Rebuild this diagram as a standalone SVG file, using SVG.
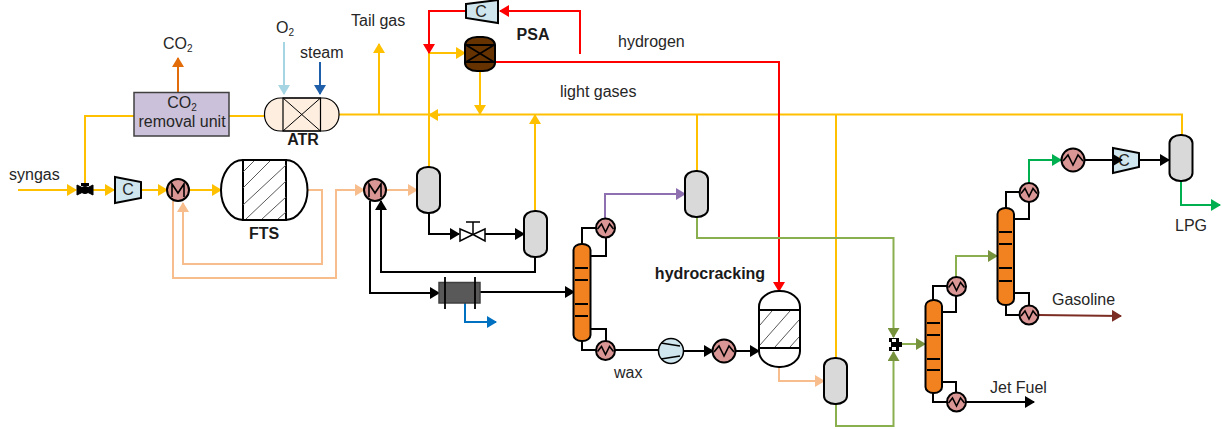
<svg xmlns="http://www.w3.org/2000/svg" width="1222" height="429" viewBox="0 0 1222 429">
<defs>
<style>
text{font-family:"Liberation Sans",Arial,sans-serif;font-size:16px;fill:#262626}
.b{font-weight:bold;fill:#1a1a1a}
.l{fill:none;stroke-linejoin:miter}
.y{stroke:#ffc000;stroke-width:2}
.p{stroke:#f8bd8c;stroke-width:2}
.k{stroke:#000;stroke-width:2}
.g{stroke:#8aaf4f;stroke-width:2}
.r{stroke:#ff0000;stroke-width:2}
.e{stroke:#00b050;stroke-width:2}
.v{fill:#d9d9d9;stroke:#000;stroke-width:2}
.col{fill:#f28220;stroke:#000;stroke-width:2}
.hx{fill:#d99694;stroke:#000;stroke-width:2}
.s{fill:none;stroke:#000;stroke-width:1.600}
.c{fill:#cfe6ee;stroke:#000;stroke-width:2}
.h{stroke:#595959;stroke-width:1}
</style>
<marker id="my" markerUnits="userSpaceOnUse" markerWidth="10" markerHeight="12" refX="9" refY="6" orient="auto"><path d="M0 0L10 6L0 12Z" fill="#ffc000"/></marker>
<marker id="mp" markerUnits="userSpaceOnUse" markerWidth="10" markerHeight="12" refX="9" refY="6" orient="auto"><path d="M0 0L10 6L0 12Z" fill="#f8bd8c"/></marker>
<marker id="mk" markerUnits="userSpaceOnUse" markerWidth="10" markerHeight="12" refX="9" refY="6" orient="auto"><path d="M0 0L10 6L0 12Z" fill="#000"/></marker>
<marker id="mg" markerUnits="userSpaceOnUse" markerWidth="10" markerHeight="12" refX="9" refY="6" orient="auto"><path d="M0 0L10 6L0 12Z" fill="#76923c"/></marker>
<marker id="mr" markerUnits="userSpaceOnUse" markerWidth="10" markerHeight="12" refX="9" refY="6" orient="auto"><path d="M0 0L10 6L0 12Z" fill="#ff0000"/></marker>
<marker id="me" markerUnits="userSpaceOnUse" markerWidth="10" markerHeight="12" refX="9" refY="6" orient="auto"><path d="M0 0L10 6L0 12Z" fill="#00b050"/></marker>
<marker id="mo" markerUnits="userSpaceOnUse" markerWidth="10" markerHeight="12" refX="9" refY="6" orient="auto"><path d="M0 0L10 6L0 12Z" fill="#e26b0a"/></marker>
<marker id="ml" markerUnits="userSpaceOnUse" markerWidth="10" markerHeight="12" refX="9" refY="6" orient="auto"><path d="M0 0L10 6L0 12Z" fill="#a5d5e2"/></marker>
<marker id="ms" markerUnits="userSpaceOnUse" markerWidth="10" markerHeight="12" refX="9" refY="6" orient="auto"><path d="M0 0L10 6L0 12Z" fill="#1f5ea8"/></marker>
<marker id="mb" markerUnits="userSpaceOnUse" markerWidth="10" markerHeight="12" refX="9" refY="6" orient="auto"><path d="M0 0L10 6L0 12Z" fill="#0070c0"/></marker>
<marker id="mw" markerUnits="userSpaceOnUse" markerWidth="10" markerHeight="12" refX="9" refY="6" orient="auto"><path d="M0 0L10 6L0 12Z" fill="#7b2c23"/></marker>
<marker id="mv" markerUnits="userSpaceOnUse" markerWidth="10" markerHeight="12" refX="9" refY="6" orient="auto"><path d="M0 0L10 6L0 12Z" fill="#8e6fb0"/></marker>
<g id="sep"><rect x="-11.500" y="-23" width="23" height="46" rx="11" ry="8" class="v"/></g>
<g id="hxs"><circle r="9.500" class="hx"/><path d="M-8 1L-4 -4L0 4L4 -4L8 1" class="s"/></g>
<g id="hxl"><circle r="11.500" class="hx"/><path d="M-10 1L-5 -5L0 5L5 -5L10 1" class="s"/></g>
<g id="hxm"><circle r="11" class="hx"/><path d="M-6 7V-6L0 3L6 -6V7" class="s"/></g>
</defs>

<g id="comp2"><path d="M1113 148L1139 153V167L1113 173Z" class="c" stroke-width="1.500"/><text x="1124" y="166" text-anchor="middle">C</text></g>

<g id="connectors">
<path class="l y" d="M18 190H76" marker-end="url(#my)"/>
<path class="l y" d="M85 184V116H134"/>
<path class="l y" d="M229 116H264"/>
<path class="l y" d="M92 190H114" marker-end="url(#my)"/>
<path class="l y" d="M140 190H167" marker-end="url(#my)"/>
<path class="l y" d="M189 190H221" marker-end="url(#my)"/>
<path class="l" stroke="#e26b0a" stroke-width="2" d="M178 92V58" marker-end="url(#mo)"/>
<path class="l" stroke="#a5d5e2" stroke-width="2" d="M284 42V94" marker-end="url(#ml)"/>
<path class="l" stroke="#1f5ea8" stroke-width="2" d="M320 62V94" marker-end="url(#ms)"/>
<path class="l y" d="M339 114.500H1182V135"/>
<path class="l y" d="M379 115V44" marker-end="url(#my)"/>
<path class="l y" d="M429 167V53"/>
<path class="l y" d="M429 53H465" marker-end="url(#my)"/>
<path class="l y" d="M480 70V114" marker-end="url(#my)"/>
<path class="l y" d="M440 115H429" marker-end="url(#my)"/>
<path class="l y" d="M535 211V115" marker-end="url(#my)"/>
<path class="l y" d="M697 115V171"/>
<path class="l y" d="M836 115V358"/>
<path class="l r" d="M465 11H429V53" marker-end="url(#mr)"/>
<path class="l r" d="M580 54V11H500" marker-end="url(#mr)"/>
<path class="l r" d="M495 62H779V291" marker-end="url(#mr)"/>
<path class="l p" d="M307 190H322V264H183V203" marker-end="url(#mp)"/>
<path class="l p" d="M173 201V278H336V190H364" marker-end="url(#mp)"/>
<path class="l p" d="M386 190H417" marker-end="url(#mp)"/>
<path class="l k" d="M429 213V234H459" marker-end="url(#mk)"/>
<path class="l k" d="M484 234H524" marker-end="url(#mk)"/>
<path class="l k" d="M535 257V272H381V201" marker-end="url(#mk)"/>
<path class="l k" d="M370 201V293H439" marker-end="url(#mk)"/>
<path class="l k" d="M480 292H574" marker-end="url(#mk)"/>
<path class="l" stroke="#0070c0" stroke-width="2" d="M465 303V322H496" marker-end="url(#mb)"/>
<path class="l k" d="M582 244V228H596"/>
<path class="l k" d="M591 256H606V237"/>
<path class="l" stroke="#8e6fb0" stroke-width="2" d="M605 219V194H685" marker-end="url(#mv)"/>
<path class="l k" d="M591 329H606V341"/>
<path class="l k" d="M582 341V350H596"/>
<path class="l k" d="M615 350H658"/>
<path class="l k" d="M684 351H713" marker-end="url(#mk)"/>
<path class="l k" d="M736 351H759" marker-end="url(#mk)"/>
<path class="l p" d="M779 367V381H824" marker-end="url(#mp)"/>
<path class="l g" d="M697 217V238H893.500V337" marker-end="url(#mg)"/>
<path class="l g" d="M836 404V426H893.500V352" marker-end="url(#mg)"/>
<path class="l g" d="M899 344H925" marker-end="url(#mg)"/>
<path class="l k" d="M933 300V286H947"/>
<path class="l k" d="M942 312H956V295"/>
<path class="l g" d="M956 277V256H997" marker-end="url(#mg)"/>
<path class="l k" d="M942 382H956V393"/>
<path class="l k" d="M933 393V402H947"/>
<path class="l k" d="M965 402H1034" marker-end="url(#mk)"/>
<path class="l k" d="M1006 208V192H1020"/>
<path class="l k" d="M1014 219H1029V201"/>
<path class="l e" d="M1029 183V160H1061" marker-end="url(#me)"/>
<path class="l k" d="M1014 293H1029V306"/>
<path class="l k" d="M1006 305V315H1020"/>
<path class="l" stroke="#7b2c23" stroke-width="2" d="M1038 315L1121 316" marker-end="url(#mw)"/>
<path class="l k" d="M1084 160H1122" marker-end="url(#mk)"/>
<path class="l k" d="M1139 160H1169" marker-end="url(#mk)"/>
<path class="l e" d="M1181 181V205H1220" marker-end="url(#me)"/>
</g>

<g id="co2-unit">
<rect x="134" y="92.500" width="95" height="43.500" fill="#ccc1da" stroke="#404040" stroke-width="1.500"/>
<text x="182" y="108" text-anchor="middle">CO<tspan font-size="10" dy="3">2</tspan></text>
<text x="182" y="127" text-anchor="middle">removal unit</text>
</g>
<g id="atr">
<rect x="264.500" y="98" width="74.500" height="33" rx="16" ry="16" fill="#fdeee0" stroke="#000" stroke-width="1.200"/>
<rect x="283" y="98" width="37.500" height="33" fill="none" stroke="#000" stroke-width="1.200"/>
<path d="M283 98L320.500 131M320.500 98L283 131" stroke="#000" stroke-width="1"/>
<text x="303" y="145" text-anchor="middle" class="b">ATR</text>
</g>
<g id="valve1"><path d="M77 185L85 189L93 185V195L85 191L77 195Z" fill="#000" stroke="#000"/><rect x="81" y="183" width="8" height="3" fill="#000"/><circle cx="85" cy="190" r="4" fill="#000"/></g>
<g id="comp1"><path d="M115 177L141 182V198L115 203Z" class="c" stroke-width="1.500"/><text x="128" y="195" text-anchor="middle">C</text></g>
<g id="hxm1"><use href="#hxm" x="178" y="190"/></g>
<g id="fts">
<rect x="221" y="160" width="86.500" height="60" rx="22" ry="30" fill="#fff" stroke="#000" stroke-width="2"/>
<rect x="243" y="160" width="43" height="60" fill="#fff" stroke="#000" stroke-width="2"/>
<path class="h" d="M243 172L254 161M243 188L270 161M243 205L286 165M246 219L286 181M262 219L286 197M278 219L286 212"/>
<text x="264" y="239" text-anchor="middle" class="b">FTS</text>
</g>
<g id="hxm2"><use href="#hxm" x="375" y="190"/></g>
<g id="sep1"><use href="#sep" x="428.500" y="190"/></g>
<g id="sep2"><use href="#sep" x="535.500" y="234"/></g>
<g id="sep3"><use href="#sep" x="696.500" y="194"/></g>
<g id="sep4"><use href="#sep" x="835.500" y="381"/></g>
<g id="sep5"><use href="#sep" x="1181" y="158"/></g>
<g id="valve2"><path d="M460 229V241L473 234.500ZM485 229V241L473 234.500Z" fill="#fff" stroke="#000" stroke-width="1.500"/><path d="M473 234V222M466 222H480" stroke="#000" stroke-width="1.500"/></g>
<g id="psa-comp"><path d="M466 4L498 0V23L466 18Z" class="c" stroke-width="1.500"/><text x="481" y="17" text-anchor="middle">C</text></g>
<g id="psa">
<rect x="465" y="37" width="30" height="34" rx="12" ry="8" fill="#663300" stroke="#000" stroke-width="2"/>
<path d="M465 45H495M465 62H495M466 45L494 62M494 45L466 62" stroke="#000" stroke-width="1.800"/>
<text x="533" y="40" text-anchor="middle" class="b">PSA</text>
</g>
<g id="cooler"><rect x="439" y="282.500" width="41" height="20.500" fill="#595959" stroke="#404040" stroke-width="1.500"/><path d="M445 277V309M475 277V309" stroke="#000" stroke-width="1.800"/></g>
<g id="column1"><rect x="573.500" y="244" width="17" height="97" rx="8" ry="6" class="col"/><path d="M575 268H588M575 280H588M575 304H588M575 316H588" stroke="#000" stroke-width="1.800"/></g>
<g id="hx1"><use href="#hxs" x="605.500" y="228"/></g>
<g id="hx2"><use href="#hxs" x="605.500" y="350.500"/></g>
<g id="pump"><circle cx="671" cy="351" r="12.500" fill="#cfe6ee" stroke="#000" stroke-width="1.500"/><path d="M661 343L680 346M661 359L680 356" stroke="#000" stroke-width="1.500"/></g>
<g id="hx3"><use href="#hxl" x="724" y="351"/></g>
<g id="hydrocracker">
<rect x="759" y="291" width="41" height="76" rx="20" ry="16" fill="#fff" stroke="#000" stroke-width="2"/>
<rect x="759" y="310" width="41" height="38" fill="#fff" stroke="#000" stroke-width="2"/>
<path class="h" d="M760 325L772 311M760 345L790 311M775 347L799 320M790 347L799 337"/>
<text x="710" y="279" text-anchor="middle" class="b">hydrocracking</text>
</g>
<g id="valve3"><path d="M889 338H899V342H902V347H899V351H889V347H891V342H889Z" fill="#000"/><rect x="892" y="339" width="4" height="3" fill="#fff"/><rect x="892" y="347" width="4" height="3" fill="#fff"/></g>
<g id="column2"><rect x="925.500" y="300" width="16.500" height="93" rx="8" ry="6" class="col"/><path d="M927 323H940M927 335H940M927 359H940M927 370H940" stroke="#000" stroke-width="1.800"/></g>
<g id="hx4"><use href="#hxs" x="956.500" y="286.500"/></g>
<g id="hx5"><use href="#hxs" x="956.500" y="402"/></g>
<g id="column3"><rect x="997.500" y="208" width="16.500" height="97" rx="8" ry="6" class="col"/><path d="M999 232H1012M999 244H1012M999 268H1012M999 281H1012" stroke="#000" stroke-width="1.800"/></g>
<g id="hx6"><use href="#hxs" x="1029" y="192.500"/></g>
<g id="hx7"><use href="#hxs" x="1029" y="315"/></g>
<g id="hx8"><use href="#hxl" x="1073" y="160"/></g>

<g id="labels">
<text x="163" y="49">CO<tspan font-size="10" dy="3">2</tspan></text>
<text x="276" y="33">O<tspan font-size="10" dy="3">2</tspan></text>
<text x="300" y="58">steam</text>
<text x="351" y="26">Tail gas</text>
<text x="9" y="180">syngas</text>
<text x="618" y="47">hydrogen</text>
<text x="560" y="97">light gases</text>
<text x="614" y="378">wax</text>
<text x="1052" y="305">Gasoline</text>
<text x="990" y="393">Jet Fuel</text>
<text x="1175" y="231">LPG</text>
</g>
</svg>
